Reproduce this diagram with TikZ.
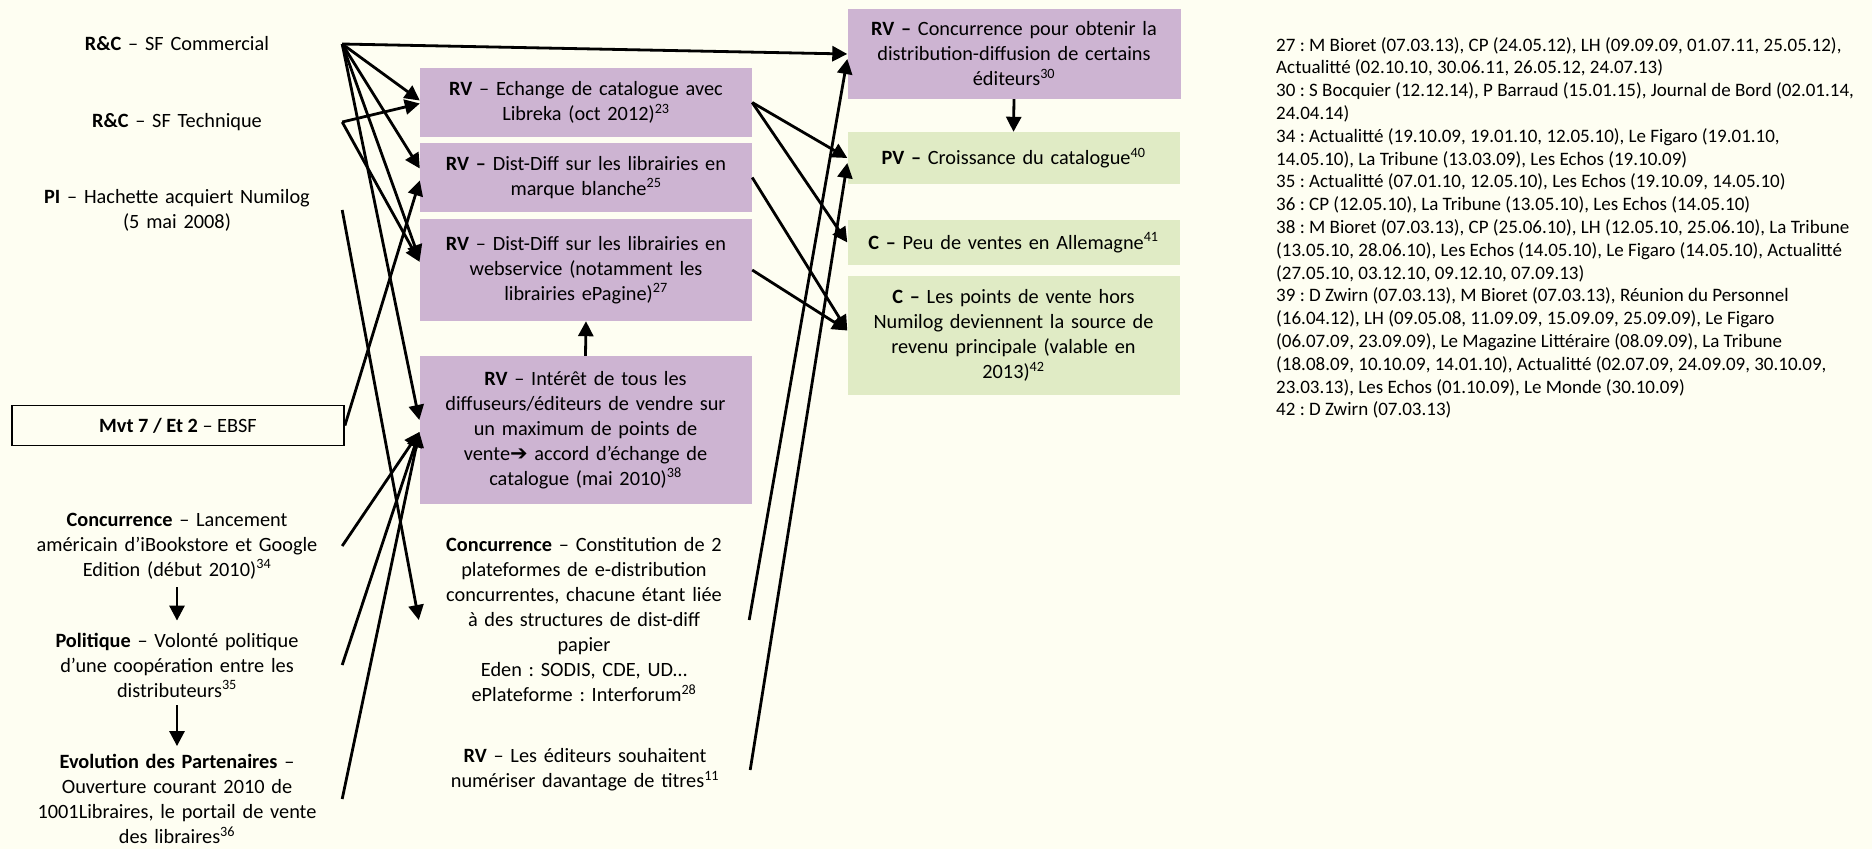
\documentclass[tikz,border=0pt]{standalone}
\usepackage{fontspec}
\setmainfont{Carlito}
\newfontfamily\djv{DejaVu Sans}
\usetikzlibrary{arrows.meta}
\definecolor{bg}{HTML}{FEFEF2}
\definecolor{lila}{HTML}{CDB4D2}
\definecolor{vert}{HTML}{E0EBC5}
\frenchspacing
\begin{document}
\frenchspacing
\begin{tikzpicture}[x=1pt,y=-1pt,
  every node/.style={font=\fontsize{20.3}{25}\selectfont\frenchspacing, align=center, inner sep=0pt},
  lbl/.style={minimum width=330pt, text width=330pt},
  pbox/.style={fill=lila, minimum width=332pt, text width=332pt},
  gbox/.style={fill=vert, minimum width=332pt, text width=332pt},
  mbox/.style={draw=black, line width=1.8pt, minimum width=332pt, minimum height=40pt},
  conn/.style={line width=2.8pt, -{Triangle[length=15pt,width=15pt]}},
  notes/.style={font=\fontsize{19}{22.8}\selectfont\frenchspacing, align=left, anchor=north west}
]
\fill[bg] (0,0) rectangle (1872,849);
\useasboundingbox (0,0) rectangle (1872,849);

% left column
\node[lbl] (sfc) at (177,44) {\textbf{R\&C} – SF Commercial};
\node[lbl] (sft) at (177,122) {\textbf{R\&C} – SF Technique};
\node[lbl] (pi) at (177,210) {\textbf{PI} – Hachette acquiert Numilog\\(5 mai 2008)};
\node[mbox] (mvt) at (178,425.5) {\textbf{Mvt 7 / Et 2} – EBSF};
\node[lbl] (conc) at (177,546) {\textbf{Concurrence} – Lancement\\américain d’iBookstore et Google\\Edition (début 2010)\textsuperscript{34}};
\node[lbl] (pol) at (177,665) {\textbf{Politique} – Volonté politique\\d’une coopération entre les\\distributeurs\textsuperscript{35}};
\node[lbl] (evo) at (177,799) {\textbf{Evolution des Partenaires} –\\Ouverture courant 2010 de\\1001Libraires, le portail de vente\\des libraires\textsuperscript{36}};

% middle column
\node[pbox, minimum height=69pt] (b1) at (586,102.5) {\textbf{RV} – Echange de catalogue avec\\Libreka (oct 2012)\textsuperscript{23}};
\node[pbox, minimum height=69pt] (b2) at (586,177.5) {\textbf{RV –} Dist-Diff sur les librairies en\\marque blanche\textsuperscript{25}};
\node[pbox, minimum height=102pt] (b3) at (586,270) {\textbf{RV} – Dist-Diff sur les librairies en\\webservice (notamment les\\librairies ePagine)\textsuperscript{27}};
\node[pbox, minimum height=148pt] (b4) at (585.5,430) {\textbf{RV} – Intérêt de tous les\\diffuseurs/éditeurs de vendre sur\\un maximum de points de\\vente{\djv\fontsize{21}{25}\selectfont ➔} accord d’échange de\\catalogue (mai 2010)\textsuperscript{38}};
\node[lbl] (concm) at (584,620) {\textbf{Concurrence} – Constitution de 2\\plateformes de e-distribution\\concurrentes, chacune étant liée\\à des structures de dist-diff\\papier\\Eden : SODIS, CDE, UD…\\ePlateforme : Interforum\textsuperscript{28}};
\node[lbl] (rvle) at (585,770) {\textbf{RV} – Les éditeurs souhaitent\\numériser davantage de titres\textsuperscript{11}};

% right column
\node[pbox, minimum width=333pt, minimum height=90pt] (rc) at (1014,54) {\textbf{RV –} Concurrence pour obtenir la\\distribution-diffusion de certains\\éditeurs\textsuperscript{30}};
\node[gbox, minimum height=52pt] (pv) at (1013.5,158) {\textbf{PV –} Croissance du catalogue\textsuperscript{40}};
\node[gbox, minimum height=45pt] (cpeu) at (1013.5,242.5) {\textbf{C –} Peu de ventes en Allemagne\textsuperscript{41}};
\node[gbox, minimum height=119pt] (clp) at (1013.5,335.5) {\textbf{C –} Les points de vente hors\\Numilog deviennent la source de\\revenu principale (valable en\\2013)\textsuperscript{42}};

% notes
\node[notes] (nt) at (1276,37) {27 : M Bioret (07.03.13), CP (24.05.12), LH (09.09.09, 01.07.11, 25.05.12),\\
Actualitté (02.10.10, 30.06.11, 26.05.12, 24.07.13)\\
30 : S Bocquier (12.12.14), P Barraud (15.01.15), Journal de Bord (02.01.14,\\
24.04.14)\\
34 : Actualitté (19.10.09, 19.01.10, 12.05.10), Le Figaro (19.01.10,\\
14.05.10), La Tribune (13.03.09), Les Echos (19.10.09)\\
35 : Actualitté (07.01.10, 12.05.10), Les Echos (19.10.09, 14.05.10)\\
36 : CP (12.05.10), La Tribune (13.05.10), Les Echos (14.05.10)\\
38 : M Bioret (07.03.13), CP (25.06.10), LH (12.05.10, 25.06.10), La Tribune\\
(13.05.10, 28.06.10), Les Echos (14.05.10), Le Figaro (14.05.10), Actualitté\\
(27.05.10, 03.12.10, 09.12.10, 07.09.13)\\
39 : D Zwirn (07.03.13), M Bioret (07.03.13), Réunion du Personnel\\
(16.04.12), LH (09.05.08, 11.09.09, 15.09.09, 25.09.09), Le Figaro\\
(06.07.09, 23.09.09), Le Magazine Littéraire (08.09.09), La Tribune\\
(18.08.09, 10.10.09, 14.01.10), Actualitté (02.07.09, 24.09.09, 30.10.09,\\
23.03.13), Les Echos (01.10.09), Le Monde (30.10.09)\\
42 : D Zwirn (07.03.13)};

% connectors
\draw[conn] (sfc.east) -- (rc.west);
\draw[conn] (sfc.east) -- ([yshift=2pt]b1.west);
\draw[conn] (sft.east) -- ([yshift=-1pt]b1.west);
\draw[conn] (sfc.east) -- ([yshift=9pt]b2.west);
\draw[conn] (mvt.east) -- ([yshift=-3pt]b2.west);
\draw[conn] (sfc.east) -- ([yshift=10pt]b3.west);
\draw[conn] (sft.east) -- ([yshift=8pt]b3.west);
\draw[conn] (sfc.east) -- ([yshift=10pt]b4.west);
\draw[conn] (pi.east) -- (concm.west);
\draw[conn] (conc.east) -- ([yshift=-2pt]b4.west);
\draw[conn] (pol.east) -- ([yshift=-2pt]b4.west);
\draw[conn] (evo.east) -- ([yshift=-2pt]b4.west);
\draw[conn] (b1.east) -- (pv.west);
\draw[conn] (b1.east) -- (cpeu.west);
\draw[conn] (b2.east) -- ([yshift=5pt]clp.west);
\draw[conn] (b3.east) -- ([yshift=5pt]clp.west);
\draw[conn] (concm.east) -- ([yshift=-5pt]rc.west);
\draw[conn] (rvle.east) -- ([yshift=-5pt]pv.west);
\draw[conn] (b4.north) -- (b3.south);
\draw[conn] (rc.south) -- (pv.north);
\draw[conn] ([yshift=-8pt]conc.south) -- ([yshift=12pt]pol.north);
\draw[conn] ([yshift=-8pt]pol.south) -- ([yshift=8pt]evo.north);
\end{tikzpicture}
\end{document}
